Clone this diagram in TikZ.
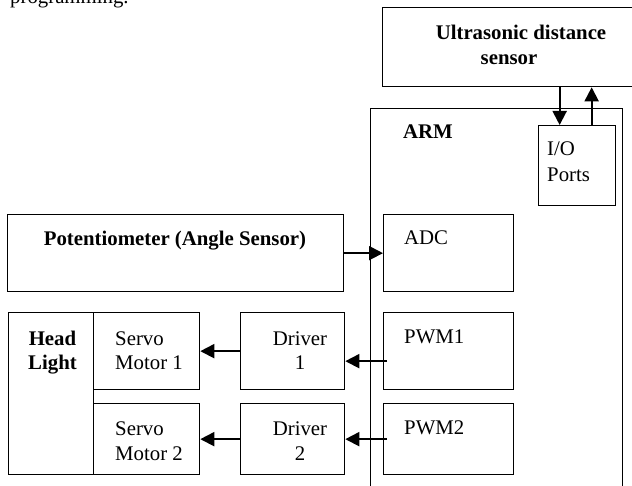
\documentclass[tikz,border=0pt]{standalone}
\usepackage{fontspec}
\setmainfont{Liberation Serif}
\usetikzlibrary{arrows.meta}
\begin{document}
\begin{tikzpicture}[x=1pt,y=-1pt,
  box/.style={draw, line width=1.3pt, inner sep=0pt, anchor=north west},
  lbl/.style={inner sep=0pt, font=\fontsize{20.8}{26}\selectfont},
  blbl/.style={inner sep=0pt, font=\fontsize{20.8}{26}\selectfont\bfseries},
  arr/.style={line width=1.9pt, -{Triangle[length=14pt,width=14pt]}},
]
\useasboundingbox (0,0) rectangle (632,486);
\clip (0,0) rectangle (632,486);

% running text of the page above the figure
\node[lbl, anchor=base west] (prog) at (10,3.5) {programming.};

% blocks
\node[box, minimum width=270, minimum height=79]  (ultra)  at (382,7)   {};
\node[box, minimum width=252, minimum height=400] (arm)    at (370,108) {};
\node[box, minimum width=77,  minimum height=80]  (io)     at (538,125) {};
\node[box, minimum width=336, minimum height=77]  (pot)    at (7,214)   {};
\node[box, minimum width=130, minimum height=77]  (adc)    at (383,214) {};
\node[box, minimum width=85,  minimum height=162] (head)   at (8,312)   {};
\node[box, minimum width=106, minimum height=77]  (servo1) at (93,312)  {};
\node[box, minimum width=106, minimum height=71]  (servo2) at (93,403)  {};
\node[box, minimum width=104, minimum height=77]  (drv1)   at (240,312) {};
\node[box, minimum width=104, minimum height=71]  (drv2)   at (240,403) {};
\node[box, minimum width=130, minimum height=77]  (pwm1)   at (383,312) {};
\node[box, minimum width=130, minimum height=71]  (pwm2)   at (383,403) {};

% labels
\node[blbl, anchor=base] (t-ultra1) at (521,39.5) {Ultrasonic distance};
\node[blbl, anchor=base] (t-ultra2) at (509,65)   {sensor};
\node[blbl, anchor=base west] (t-arm) at (403,139) {ARM};
\node[lbl, anchor=base west] (t-io1) at (547,156) {I/O};
\node[lbl, anchor=base west] (t-io2) at (547,182) {Ports};
\node[blbl, anchor=base] (t-pot) at (175,246) {Potentiometer (Angle Sensor)};
\node[lbl, anchor=base west] (t-adc) at (404,245) {ADC};
\node[blbl, anchor=base] (t-head1) at (52.5,345) {Head};
\node[blbl, anchor=base] (t-head2) at (52.5,370) {Light};
\node[lbl, anchor=base west] (t-s1a) at (115,345) {Servo};
\node[lbl, anchor=base west] (t-s1b) at (115,370) {Motor 1};
\node[lbl, anchor=base west] (t-s2a) at (115,435) {Servo};
\node[lbl, anchor=base west] (t-s2b) at (115,460) {Motor 2};
\node[lbl, anchor=base] (t-d1a) at (300,345) {Driver};
\node[lbl, anchor=base] (t-d1b) at (300,370) {1};
\node[lbl, anchor=base] (t-d2a) at (300,435) {Driver};
\node[lbl, anchor=base] (t-d2b) at (300,460) {2};
\node[lbl, anchor=base west] (t-p1) at (404,344) {PWM1};
\node[lbl, anchor=base west] (t-p2) at (404,434) {PWM2};

% connectors
\draw[arr] ([xshift=-17.5pt]io.north |- ultra.south) -- ([xshift=-17.5pt]io.north);
\draw[arr] ([xshift=14.5pt]io.north) -- ([xshift=14.5pt]io.north |- ultra.south);
\draw[arr] (pot.east) -- (adc.west |- pot.east);
\draw[arr] (drv1.west) -- (servo1.east |- drv1.west);
\draw[arr] ([xshift=4pt,yshift=-10pt]pwm1.west) -- ([yshift=-10pt]drv1.east);
\draw[arr] (drv2.west) -- (servo2.east |- drv2.west);
\draw[arr] ([xshift=4pt]pwm2.west) -- (drv2.east |- pwm2.west);
\end{tikzpicture}
\end{document}
